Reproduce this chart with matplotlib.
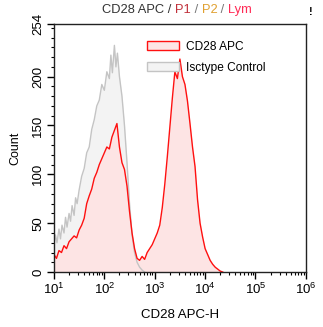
import numpy as np
import matplotlib
matplotlib.use("Agg")
import matplotlib.pyplot as plt
from matplotlib.patches import Patch
from matplotlib.ticker import LogLocator, MultipleLocator, FixedLocator

plt.rcParams['font.family'] = ['Liberation Sans', 'DejaVu Sans']

# log10 positions of histogram channels and counts
iso_dec = [1.00, 1.03, 1.06, 1.10, 1.13, 1.16, 1.20, 1.23, 1.26, 1.30,
           1.33, 1.36, 1.40, 1.43, 1.46, 1.50, 1.55, 1.60, 1.65, 1.70,
           1.75, 1.80, 1.85, 1.90, 1.95, 2.00, 2.05, 2.10, 2.13, 2.16,
           2.20, 2.23, 2.26, 2.30, 2.35, 2.40, 2.45, 2.50, 2.55, 2.60,
           2.65, 2.70, 2.75, 2.80]
iso_count = [28, 38, 30, 44, 34, 48, 40, 56, 46, 60,
             52, 68, 58, 76, 70, 84, 98, 106, 122, 128,
             146, 156, 170, 176, 192, 186, 205, 198, 222, 204,
             232, 210, 224, 200, 180, 150, 112, 70, 38, 20,
             10, 5, 2, 0]

cd28_dec = [1.00, 1.05, 1.10, 1.15, 1.20, 1.25, 1.30, 1.35, 1.40, 1.45,
            1.50, 1.55, 1.60, 1.65, 1.70, 1.75, 1.80, 1.85, 1.90, 1.95,
            2.00, 2.05, 2.10, 2.15, 2.20, 2.25, 2.30, 2.35, 2.40, 2.45,
            2.50, 2.55, 2.60, 2.65, 2.70, 2.75, 2.80, 2.85, 2.90, 2.95,
            3.00, 3.05, 3.10, 3.15, 3.20, 3.25, 3.30, 3.35, 3.40, 3.45,
            3.50, 3.55, 3.60, 3.65, 3.70, 3.75, 3.80, 3.85, 3.90, 3.95,
            4.00, 4.05, 4.10, 4.15, 4.20, 4.25, 4.30, 4.35]
cd28_count = [18, 14, 22, 20, 27, 24, 31, 34, 37, 35,
              43, 48, 55, 70, 78, 85, 96, 102, 110, 116,
              122, 128, 126, 138, 145, 152, 128, 112, 105, 88,
              62, 40, 24, 14, 12, 16, 13, 20, 24, 28,
              34, 40, 48, 66, 90, 118, 148, 178, 205, 198,
              218, 200, 192, 175, 152, 128, 108, 74, 50, 36,
              24, 18, 12, 8, 5, 3, 1, 0]

y_ticks = [0, 50, 100, 150, 200, 254]

iso_x = 10 ** np.array(iso_dec)
cd28_x = 10 ** np.array(cd28_dec)

fig = plt.figure(figsize=(3.23, 3.27), dpi=100)
ax = fig.add_axes([0.167, 0.168, 0.780, 0.759])

ax.fill_between(iso_x, iso_count, color="#f3f3f3", lw=0)
ax.fill_between(cd28_x, cd28_count, color="#fde4e4", lw=0)
ax.plot(iso_x, iso_count, color="#c4c4c4", lw=1)
ax.plot(cd28_x, cd28_count, color="#ff1010", lw=1)

ax.set_xscale("log")
ax.set_xlim(10, 1e6)
ax.set_ylim(0, 254)
ax.xaxis.set_major_locator(LogLocator(base=10, numticks=10))
ax.xaxis.set_minor_locator(LogLocator(base=10, subs=np.arange(2, 10), numticks=10))
ax.yaxis.set_major_locator(FixedLocator(y_ticks))
ax.yaxis.set_minor_locator(MultipleLocator(10))
ax.tick_params(which="major", direction="out", length=5, width=1, labelsize=9.5, pad=2)
ax.tick_params(which="minor", direction="out", length=2.5, width=0.8)
for lab in ax.get_yticklabels():
    lab.set_rotation(90)
    lab.set_va("center")
for s in ax.spines.values():
    s.set_linewidth(1)
    s.set_color("#222222")

ax.set_xlabel("CD28 APC-H", fontsize=9.5, labelpad=9)
ax.set_ylabel("Count", fontsize=9, labelpad=8)

handles = [Patch(facecolor="#fde4e4", edgecolor="#ff1010", lw=1),
           Patch(facecolor="#f3f3f3", edgecolor="#c4c4c4", lw=1)]
ax.legend(handles, ["CD28 APC", "Isctype Control"], loc="upper left",
          bbox_to_anchor=(0.37, 0.932), frameon=False, fontsize=8.6,
          handlelength=2.7, handleheight=0.75, handletextpad=0.55,
          labelspacing=0.75, borderaxespad=0, borderpad=0)

# multi-coloured title
parts = [("CD28 APC / ", "#333333"), ("P1", "#c0303a"), (" / ", "#777777"),
         ("P2", "#e0a030"), (" / ", "#777777"), ("Lym", "#ff2a55")]
fig.canvas.draw()
renderer = fig.canvas.get_renderer()
texts = [fig.text(0, 0.968, t, color=c, fontsize=9.3, va="center") for t, c in parts]
widths = [t.get_window_extent(renderer).width for t in texts]
x0 = 177 - sum(widths) / 2
for t, w in zip(texts, widths):
    t.set_x(x0 / fig.bbox.width)
    x0 += w

fig.text(0.958, 0.962, "!", fontsize=8, fontweight="bold", color="black", va="center")

fig.savefig("out.png", dpi=100)
